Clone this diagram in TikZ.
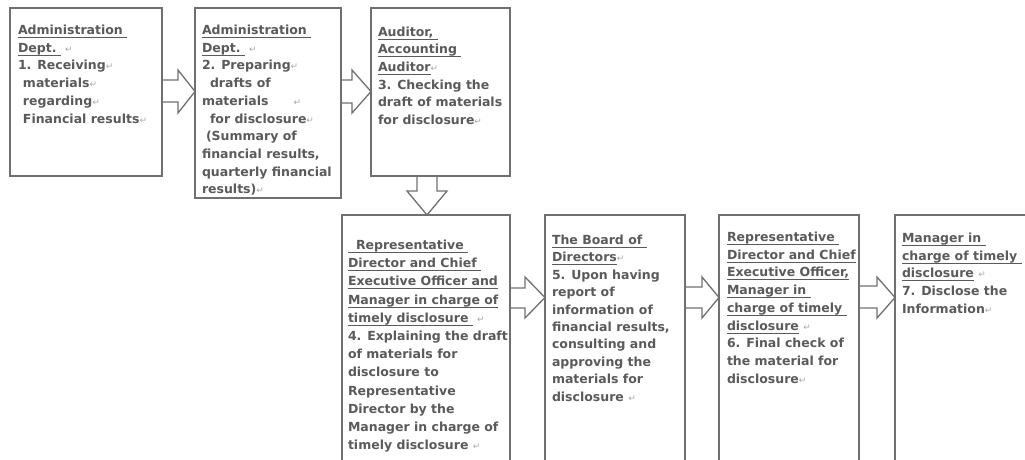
\documentclass[tikz,border=0pt]{standalone}
\usepackage{fontspec}
\setmainfont{DejaVu Sans}
\newfontfamily\retfont{DejaVu Sans}
\usetikzlibrary{calc}
\definecolor{txt}{HTML}{5A5A5A}
\definecolor{brd}{HTML}{707070}
\definecolor{retc}{HTML}{A8A8A8}
\newcommand\hul[1]{\setbox0\hbox{#1}\rlap{\rule[-3.5pt]{\wd0}{1pt}}\box0}
\newcommand\ret{{\retfont\mdseries\fontsize{9}{9}\selectfont\color{retc}↵}}
\newcommand\fl{\rule{0pt}{12pt}}
\tikzset{
 box/.style={draw=brd, line width=1.3pt, rectangle, inner sep=0pt, outer sep=0pt, anchor=north west},
 txtblock/.style={anchor=north west, inner sep=0pt, outer sep=0pt, align=left, text=txt, font=\bfseries\fontsize{12.5}{17.7}\selectfont},
 blockarrow/.style={draw=brd, line width=1.3pt, line join=miter},
}
\newcommand\rarrow[7]{%
 \draw[blockarrow] let \p1=(#1.east), \p2=(#2.west) in
  (\x1,-#3pt) -- (\x2-#7pt,-#3pt) -- (\x2-#7pt,-#5pt) -- (\x2,{-(#5+#6)/2*1pt})
  -- (\x2-#7pt,-#6pt) -- (\x2-#7pt,-#4pt) -- (\x1,-#4pt);
}
\begin{document}
\begin{tikzpicture}[x=1pt,y=-1pt]
\useasboundingbox (0,0) rectangle (1025,459);
\clip (0,0) rectangle (1025,459);
% boxes
\node[box, minimum width=152pt, minimum height=168pt] (b1) at (10,8) {};
\node[box, minimum width=146pt, minimum height=190pt] (b2) at (195,8) {};
\node[box, minimum width=139pt, minimum height=168pt] (b3) at (371,8) {};
\node[box, minimum width=168pt, minimum height=270pt] (b4) at (342,215) {};
\node[box, minimum width=140pt, minimum height=270pt] (b5) at (545,215) {};
\node[box, minimum width=140pt, minimum height=270pt] (b6) at (719,215) {};
\node[box, minimum width=160pt, minimum height=270pt] (b7) at (895,215) {};
% texts
\node[txtblock] (t1) at (18,22.5) {\fl\hul{Administration\ }\\
\hul{Dept.\ }\ \ret\\
1. Receiving\ret\\
\hspace{5pt}materials\ret\\
\hspace{5pt}regarding\ret\\
\hspace{5pt}Financial results\ret};
\node[txtblock] (t2) at (202,22.5) {\fl\hul{Administration\ }\\
\hul{Dept.\ }\ \ret\\
2. Preparing\ret\\
\hspace{8pt}drafts of\\
materials\hspace{25pt}\ret\\
\hspace{8pt}for disclosure\ret\\
\hspace{4pt}(Summary of\\
financial results,\\
quarterly financial\\
results)\ret};
\node[txtblock] (t3) at (378,24) {\fl\hul{Auditor,\ }\\
\hul{Accounting\ }\\
\hul{Auditor}\ret\\
3. Checking the\\
draft of materials\\
for disclosure\ret};
\node[txtblock, font=\bfseries\fontsize{12.5}{18.2}\selectfont] (t4) at (348,237.5) {\fl\hul{\hspace{8pt}Representative\ }\\
\hul{Director and Chief\ }\\
\hul{Executive Officer and}\\
\hul{Manager in charge of}\\
\hul{timely disclosure\ }\ \ret\\
4. Explaining the draft\\
of materials for\\
disclosure to\\
Representative\\
Director by the\\
Manager in charge of\\
timely disclosure\ \ret};
\node[txtblock, font=\bfseries\fontsize{12.5}{17.4}\selectfont] (t5) at (552,232.5) {\fl\hul{The Board of\ }\\
\hul{Directors}\ret\\
5. Upon having\\
report of\\
information of\\
financial results,\\
consulting and\\
approving the\\
materials for\\
disclosure\ \ret};
\node[txtblock] (t6) at (727,229.5) {\fl\hul{Representative\ }\\
\hul{Director and Chief}\\
\hul{Executive Officer,}\\
\hul{Manager in\ }\\
\hul{charge of timely\ }\\
\hul{disclosure}\ \ret\\
6. Final check of\\
the material for\\
disclosure\ret};
\node[txtblock] (t7) at (902,230.5) {\fl\hul{Manager in\ }\\
\hul{charge of timely\ }\\
\hul{disclosure}\ \ret\\
7. Disclose the\\
Information\ret};
% arrows
\rarrow{b1}{b2}{80}{102}{70}{113}{17}
\rarrow{b2}{b3}{80}{103}{70}{113}{19}
\rarrow{b4}{b5}{288}{308}{277}{318}{20}
\rarrow{b5}{b6}{287}{308}{277}{318}{17}
\rarrow{b6}{b7}{286}{308}{277}{318}{18}
\draw[blockarrow] let \p1=(b3.south), \p2=(b4.north) in
 (417pt,\y1) -- (417pt,-191pt) -- (407pt,-191pt) -- (427pt,\y2)
 -- (447pt,-191pt) -- (437pt,-191pt) -- (437pt,\y1);
\end{tikzpicture}
\end{document}
